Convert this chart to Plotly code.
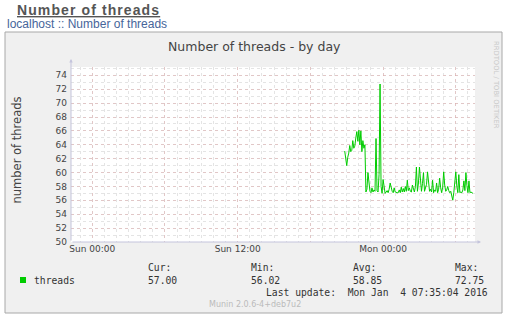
import plotly.graph_objects as go
import pandas as pd

# ---------------- data ----------------
start_time = "2016-01-03 20:50"
step_minutes = 5
threads = [
    63.1, 62.0, 61.0, 62.2, 62.8, 63.9, 63.0, 63.2, 64.6, 63.5,
    63.8, 65.0, 65.9, 64.5, 66.1, 64.0, 66.0, 63.0, 64.6, 63.5,
    64.0, 57.2, 57.6, 60.0, 58.2, 57.3, 57.1, 57.8, 57.2, 57.5,
    57.3, 64.9, 57.4, 57.2, 59.7, 72.75, 58.0, 57.0, 59.0, 57.6,
    57.0, 57.2, 57.4, 57.1, 57.6, 58.5, 57.8, 57.3, 57.1, 57.8,
    57.2, 57.1, 57.1, 57.1, 57.5, 57.1, 57.9, 57.2, 57.7, 57.2,
    58.0, 57.3, 58.9, 57.4, 57.8, 57.3, 57.2, 58.2, 57.6, 57.2,
    58.0, 60.8, 57.3, 58.5, 60.8, 58.2, 57.3, 58.4, 60.0, 57.3,
    57.9, 58.3, 60.1, 58.0, 57.3, 57.6, 57.2, 58.9, 57.1, 57.5,
    57.3, 58.5, 57.1, 57.6, 59.2, 57.8, 57.1, 57.9, 60.1, 58.2,
    57.3, 57.5, 58.0, 57.4, 57.1, 57.3, 56.7, 56.02, 57.1, 58.3,
    60.1, 58.0, 57.1, 59.7, 57.1, 57.2, 57.1, 57.5, 58.8, 57.4,
    60.0, 58.1, 57.1, 58.8, 57.1, 57.2, 57.1, 57.0,
]
times = pd.date_range(start_time, periods=len(threads), freq=f"{step_minutes}min")

x_range = ["2016-01-02 22:15", "2016-01-04 07:35"]
y_range = [50, 75.2]
y_tick_vals = list(range(50, 75, 2))
x_tick_vals = ["2016-01-03 00:00", "2016-01-03 06:00", "2016-01-03 12:00",
               "2016-01-03 18:00", "2016-01-04 00:00", "2016-01-04 06:00"]
x_tick_text = ["Sun 00:00", "", "Sun 12:00", "", "Mon 00:00", ""]

stat_labels = ["Cur:", "Min:", "Avg:", "Max:"]
stat_values = ["57.00", "56.02", "58.85", "72.75"]
series_name = "threads"
last_update = "Last update:\u00a0\u00a0Mon Jan\u00a0\u00a04 07:35:04 2016"

# ---------------- layout helpers ----------------
W, H = 509, 319
L, R, T, B = 71, 34, 67, 77
PW, PH = W - L - R, H - T - B


def px(x):
    return (x - L) / PW


def py(y):
    return (H - B - y) / PH


GREEN = "#00cc00"
SANS = "DejaVu Sans"
MONO = "DejaVu Sans Mono"

fig = go.Figure()
fig.add_trace(go.Scatter(x=times, y=threads, mode="lines",
                         line=dict(color=GREEN, width=1), hoverinfo="skip",
                         showlegend=False))

shapes = [
    # munin graph frame
    dict(type="rect", xref="paper", yref="paper", x0=px(5), x1=px(502),
         y0=py(313), y1=py(32), fillcolor="#f0f0f0",
         line=dict(color="#a8a8a8", width=1), layer="below"),
    # white plotting canvas
    dict(type="rect", xref="paper", yref="paper", x0=0, x1=1, y0=0, y1=1,
         fillcolor="#ffffff", line=dict(width=0), layer="below"),
    # legend square
    dict(type="rect", xref="paper", yref="paper", x0=px(20), x1=px(26),
         y0=py(283), y1=py(277), fillcolor=GREEN, line=dict(width=0)),
]

ann = []
ann.append(dict(x=px(15), y=py(10), xref="paper", yref="paper", xanchor="left",
                yanchor="middle", showarrow=False,
                text="<b><u><span style='letter-spacing:1.1px'>Number of threads</span></u></b>",
                font=dict(family="Liberation Sans", size=14, color="#555555")))
ann.append(dict(x=px(5), y=py(24), xref="paper", yref="paper", xanchor="left",
                yanchor="middle", showarrow=False,
                text="localhost :: Number of threads",
                font=dict(family="Liberation Sans", size=12, color="#46659a")))
ann.append(dict(x=px(254), y=py(47), xref="paper", yref="paper", xanchor="center",
                yanchor="middle", showarrow=False,
                text="Number of threads - by day",
                font=dict(family=SANS, size=12.5, color="#444444")))
ann.append(dict(x=px(16.5), y=py(150), xref="paper", yref="paper", xanchor="center",
                yanchor="middle", showarrow=False, textangle=-90,
                text="number of threads",
                font=dict(family=SANS, size=11.5, color="#444444")))
ann.append(dict(x=px(496), y=py(85), xref="paper", yref="paper", xanchor="center",
                yanchor="middle", showarrow=False, textangle=90,
                text="RRDTOOL / TOBI OETIKER",
                font=dict(family=SANS, size=6.8, color="#c8c8c8")))
# axis arrows
ann.append(dict(x=px(481), y=0, xref="paper", yref="paper", ax=-(481 - L), ay=0,
                axref="pixel", ayref="pixel", text="", showarrow=True,
                arrowhead=2, arrowsize=0.7, arrowwidth=1, arrowcolor="#c4c4dc",
                standoff=0, startstandoff=0))
ann.append(dict(x=0, y=py(59), xref="paper", yref="paper", ax=0, ay=(H - B - 59),
                axref="pixel", ayref="pixel", text="", showarrow=True,
                arrowhead=2, arrowsize=0.7, arrowwidth=1, arrowcolor="#c4c4dc",
                standoff=0, startstandoff=0))
# legend
ann.append(dict(x=px(32), y=py(280), xref="paper", yref="paper", xanchor="left",
                yanchor="middle", showarrow=False, text=series_name,
                font=dict(family=MONO, size=9.7, color="#333333")))
stat_x = [147, 250, 352, 454]
for lab, val, sx in zip(stat_labels, stat_values, stat_x):
    ann.append(dict(x=px(sx - 1), y=py(267), xref="paper", yref="paper", xanchor="left",
                    yanchor="middle", showarrow=False, text=lab,
                    font=dict(family=MONO, size=9.7, color="#333333")))
    ann.append(dict(x=px(sx - 1), y=py(280), xref="paper", yref="paper", xanchor="left",
                    yanchor="middle", showarrow=False, text=val,
                    font=dict(family=MONO, size=9.7, color="#333333")))
ann.append(dict(x=px(490), y=py(292), xref="paper", yref="paper", xanchor="right",
                yanchor="middle", showarrow=False, text=last_update,
                font=dict(family=MONO, size=9.7, color="#333333")))
ann.append(dict(x=px(255), y=py(304), xref="paper", yref="paper", xanchor="center",
                yanchor="middle", showarrow=False, text="Munin 2.0.6-4+deb7u2",
                font=dict(family=SANS, size=8, color="#bbbbbb")))

MAJOR = "rgba(220,140,140,0.32)"
MINOR = "#e4e4e4"

fig.update_layout(
    width=W, height=H, margin=dict(l=L, r=R, t=T, b=B),
    paper_bgcolor="#ffffff", plot_bgcolor="rgba(0,0,0,0)",
    showlegend=False, shapes=shapes, annotations=ann,
    xaxis=dict(type="date", range=x_range, tickvals=x_tick_vals, ticktext=x_tick_text,
               showgrid=True, gridcolor=MAJOR, griddash="dot", gridwidth=1,
               ticks="", zeroline=False, showline=False,
               tickfont=dict(family=SANS, size=9, color="#444444"),
               minor=dict(dtick=3600000, tick0="2016-01-03 00:00", showgrid=True,
                          gridcolor=MINOR, griddash="dot", gridwidth=1),
               fixedrange=True),
    yaxis=dict(range=y_range, tickvals=y_tick_vals, showgrid=True, gridcolor=MAJOR,
               griddash="dot", gridwidth=1, ticks="", zeroline=False, showline=False,
               ticklabelstandoff=3,
               tickfont=dict(family=SANS, size=9, color="#444444"),
               minor=dict(dtick=1, tick0=50, showgrid=True, gridcolor=MINOR,
                          griddash="dot", gridwidth=1),
               fixedrange=True),
)

fig.write_html("out.html", config={"displayModeBar": False})
